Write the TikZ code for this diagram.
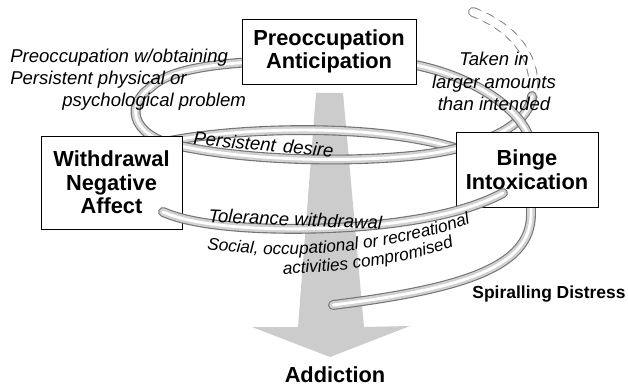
\documentclass[tikz,border=0pt]{standalone}
\usepackage{fontspec}
\setmainfont{Liberation Sans}
\usetikzlibrary{decorations.text}
\newlength\px
\setlength\px{0.025cm}
\newcommand\boxfont{\fontsize{15.5}{16.8}\selectfont\bfseries}
\newcommand\notefont{\fontsize{13.2}{15.6}\selectfont\itshape}
\newcommand\curvefont{\fontsize{12.2}{15}\selectfont\itshape}

\begin{document}
\begin{tikzpicture}[x=\px, y=-\px,
        tube/.style={line cap=round, draw=black!55, line width=7pt,
                postaction={draw=black!18, line width=5.4pt},
                postaction={draw=white, line width=2pt}},
        ghost/.style={line cap=round, draw=black!50, line width=7pt, dash pattern=on 4pt off 6pt,
                postaction={draw=white, line width=5.6pt, solid}},
        note/.style={font=\notefont, inner sep=0pt}]
        \useasboundingbox (0,0) rectangle (628,386);
        \fill[black!20] (316,93) -- (343,93) -- (364,327) -- (410,326) -- (330,357) -- (252,327) -- (298,327) -- cycle;

        \draw[ghost] (473,12) .. controls (515,28) and (540,60) .. (532,100);
        \draw[tube] (165,142) .. controls (230,128) and (390,120) .. (475,155);
        \draw[tube] (532,96) .. controls (530,118) and (500,145) .. (420,155)
                .. controls (360,162) and (260,162) .. (185,147)
                .. controls (135,140) and (122,108) .. (150,88)
                .. controls (170,68) and (220,62) .. (300,60);
        \draw[tube] (380,60) .. controls (460,66) and (520,105) .. (530,140);
        \draw[tube] (531,190) -- (531,215) .. controls (530,265) and (470,288) .. (333,305);

        \begin{scope}[every node/.style={draw, line width=0.7pt, fill=white, align=center, inner sep=0pt, font=\boxfont}]
                \node[minimum width=174\px, minimum height=65\px] (preocc) at (329,51.5) {Preoccupation\\Anticipation};
                \node[minimum width=141\px, minimum height=93\px] (withdraw) at (111.5,182.5) {Withdrawal\\Negative\\Affect};
                \node[minimum width=142\px, minimum height=75\px] (binge) at (527,169.5) {Binge\\Intoxication};
        \end{scope}

        \draw[tube] (163,212) .. controls (210,233) and (330,232) .. (400,222)
                .. controls (450,215) and (480,205) .. (503,193);

        \node[note, anchor=base west] (obtain) at (10,63) {Preoccupation w/obtaining};
        \node[note, anchor=base west] (physical) at (10,85) {Persistent physical or};
        \node[note, anchor=base west] (psych) at (62,107) {psychological problem};
        \node[note, anchor=base] (taken) at (494,66) {Taken in};
        \node[note, anchor=base] (larger) at (494,89) {larger amounts};
        \node[note, anchor=base] (than) at (494,111) {than intended};
        \node[note, anchor=base, rotate=-5] (desire) at (263,151) {Persistent\hspace{0.4em}desire};
        \node[note, anchor=base west, rotate=-2.5] (tolerance) at (208,222) {Tolerance withdrawal};
        \path[decorate, decoration={text along path, text={|\curvefont|Social, occupational or recreational}}]
                (207,249) .. controls (280,260) and (385,257) .. (495,215);
        \path[decorate, decoration={text along path, text={|\curvefont|activities compromised}}]
                (283,274) .. controls (343,272) and (420,263) .. (480,237);

        \node[font=\fontsize{12.4}{15}\selectfont\bfseries, anchor=base, inner sep=0pt] (spiral) at (549,298) {Spiralling Distress};
        \node[font=\boxfont, anchor=base, inner sep=0pt] (addiction) at (335,382) {Addiction};
\end{tikzpicture}
\end{document}
